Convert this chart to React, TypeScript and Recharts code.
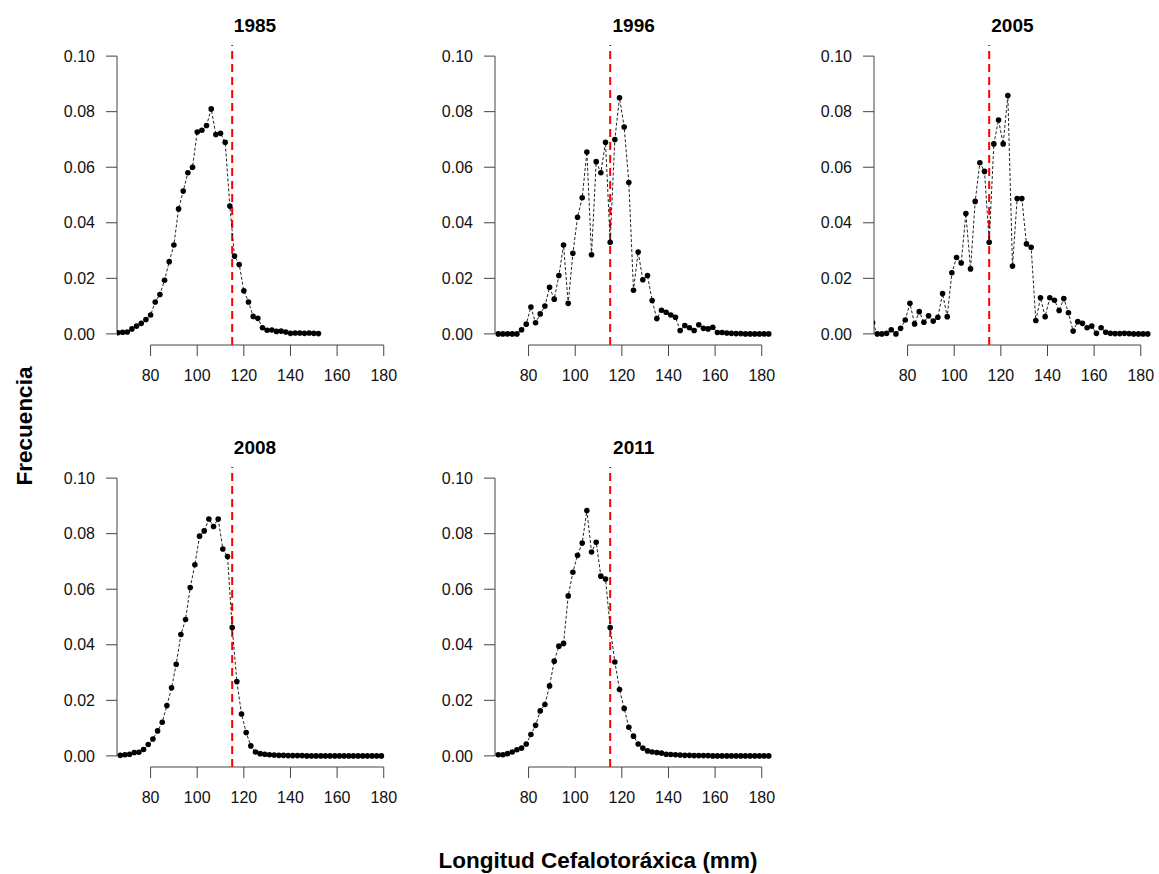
import React from 'react';
import { LineChart, Line, XAxis, YAxis, ReferenceLine } from 'recharts';

// ---- x categories (carapace length, mm) ----
const xEven66to152 = [66, 68, 70, 72, 74, 76, 78, 80, 82, 84, 86, 88, 90, 92, 94, 96, 98, 100, 102, 104, 106, 108, 110, 112, 114, 116, 118, 120, 122, 124, 126, 128, 130, 132, 134, 136, 138, 140, 142, 144, 146, 148, 150, 152];
const xOdd67to183 = [67, 69, 71, 73, 75, 77, 79, 81, 83, 85, 87, 89, 91, 93, 95, 97, 99, 101, 103, 105, 107, 109, 111, 113, 115, 117, 119, 121, 123, 125, 127, 129, 131, 133, 135, 137, 139, 141, 143, 145, 147, 149, 151, 153, 155, 157, 159, 161, 163, 165, 167, 169, 171, 173, 175, 177, 179, 181, 183];
const xOdd65to183 = [65, 67, 69, 71, 73, 75, 77, 79, 81, 83, 85, 87, 89, 91, 93, 95, 97, 99, 101, 103, 105, 107, 109, 111, 113, 115, 117, 119, 121, 123, 125, 127, 129, 131, 133, 135, 137, 139, 141, 143, 145, 147, 149, 151, 153, 155, 157, 159, 161, 163, 165, 167, 169, 171, 173, 175, 177, 179, 181, 183];
const xOdd67to179 = [67, 69, 71, 73, 75, 77, 79, 81, 83, 85, 87, 89, 91, 93, 95, 97, 99, 101, 103, 105, 107, 109, 111, 113, 115, 117, 119, 121, 123, 125, 127, 129, 131, 133, 135, 137, 139, 141, 143, 145, 147, 149, 151, 153, 155, 157, 159, 161, 163, 165, 167, 169, 171, 173, 175, 177, 179];

// ---- frequencies per year ----
const freq1985 = [0.0004, 0.0006, 0.0007, 0.0018, 0.0028, 0.0038, 0.0052, 0.0068, 0.0115, 0.0142, 0.0193, 0.026, 0.032, 0.045, 0.0514, 0.058, 0.060, 0.0727, 0.0733, 0.075, 0.081, 0.0718, 0.0722, 0.069, 0.046, 0.028, 0.025, 0.0155, 0.0115, 0.0063, 0.0056, 0.0022, 0.0013, 0.0014, 0.0009, 0.0010, 0.0007, 0.0002, 0.0003, 0.0003, 0.0002, 0.0003, 0.0002, 0.0001];
const freq1996 = [0, 0, 0, 0, 0, 0.0015, 0.0035, 0.0097, 0.004, 0.0072, 0.010, 0.0168, 0.0125, 0.021, 0.032, 0.011, 0.029, 0.042, 0.049, 0.0655, 0.0285, 0.062, 0.058, 0.069, 0.033, 0.070, 0.085, 0.0745, 0.0545, 0.0157, 0.0295, 0.0195, 0.021, 0.012, 0.0055, 0.0085, 0.0078, 0.0068, 0.006, 0.0012, 0.003, 0.0022, 0.0012, 0.0033, 0.002, 0.0018, 0.0024, 0.0005, 0.0005, 0.0003, 0.0002, 0.0001, 0.0001, 0, 0, 0, 0, 0, 0];
const freq2005 = [0.004, 0, 0, 0.0002, 0.0015, 0, 0.002, 0.005, 0.011, 0.0036, 0.008, 0.0042, 0.0065, 0.0046, 0.006, 0.0145, 0.0062, 0.022, 0.0275, 0.0255, 0.0433, 0.0234, 0.0477, 0.0616, 0.0585, 0.033, 0.0684, 0.077, 0.0684, 0.0858, 0.0244, 0.0487, 0.0487, 0.0324, 0.0312, 0.0048, 0.013, 0.0062, 0.013, 0.0121, 0.0084, 0.0127, 0.0076, 0.001, 0.0044, 0.0038, 0.0022, 0.0028, 0.0002, 0.0022, 0.0006, 0.0002, 0.0001, 0.0001, 0.0002, 0.0001, 0, 0, 0, 0];
const freq2008 = [0.0002, 0.0004, 0.0006, 0.0012, 0.0013, 0.0023, 0.0041, 0.0061, 0.009, 0.0121, 0.0181, 0.0245, 0.033, 0.0437, 0.0491, 0.0606, 0.0688, 0.0791, 0.081, 0.0853, 0.0826, 0.0853, 0.0745, 0.0718, 0.0462, 0.0268, 0.0151, 0.0084, 0.0036, 0.0014, 0.0008, 0.0006, 0.0004, 0.0003, 0.0002, 0.0002, 0.0001, 0.0001, 0.0001, 0.0001, 0, 0, 0, 0, 0, 0, 0, 0, 0, 0, 0, 0, 0, 0, 0, 0, 0];
const freq2011 = [0.0004, 0.0004, 0.0008, 0.0014, 0.0022, 0.0028, 0.0043, 0.0077, 0.011, 0.0162, 0.0185, 0.0252, 0.0341, 0.0395, 0.0405, 0.0576, 0.0661, 0.0722, 0.0766, 0.0883, 0.0734, 0.0769, 0.0647, 0.0637, 0.0462, 0.0338, 0.0239, 0.0171, 0.0103, 0.0071, 0.0043, 0.0028, 0.0018, 0.0014, 0.0012, 0.001, 0.0006, 0.0005, 0.0004, 0.0003, 0.0002, 0.0002, 0.0001, 0.0001, 0.0001, 0.0001, 0, 0, 0, 0, 0, 0, 0, 0, 0, 0, 0, 0, 0];

const years = ['1985', '1996', '2005', '2008', '2011'];
const xTicks = [80, 100, 120, 140, 160, 180];
const yTicks = [0, 0.02, 0.04, 0.06, 0.08, 0.1];
const cutoff = 115;

const FONT = '"Liberation Sans", Arial, Helvetica, sans-serif';
const PLOT_W = 277;
const PLOT_H = 300;
const Y_AXIS_W = 70;
const TOP_M = 40;
const X_AXIS_H = 50;
const X_DOMAIN: [number, number] = [65.6, 184.4];
const Y_DOMAIN: [number, number] = [-0.004, 0.104];

const tickStyle = { fontSize: 16, fill: '#111', fontFamily: FONT };

type PanelProps = { title: string; xs: number[]; ys: number[]; left: number; top: number };

function Panel({ xs, ys, left, top }: PanelProps) {
  const data = xs.map((x, i) => ({ x, y: ys[i] }));
  return (
    <div style={{ position: 'absolute', left: left - Y_AXIS_W, top: top - TOP_M }}>
      <LineChart
        width={Y_AXIS_W + PLOT_W + 5}
        height={TOP_M + PLOT_H + X_AXIS_H}
        data={data}
        margin={{ top: TOP_M, right: 5, bottom: 0, left: 0 }}
      >
        <XAxis
          dataKey="x"
          type="number"
          domain={X_DOMAIN}
          allowDataOverflow
          ticks={xTicks}
          interval={0}
          axisLine={false}
          tickLine={{ stroke: '#444' }}
          tickSize={11}
          tickMargin={14}
          height={X_AXIS_H}
          tick={tickStyle}
        />
        <YAxis
          type="number"
          domain={Y_DOMAIN}
          allowDataOverflow
          ticks={yTicks}
          interval={0}
          tickFormatter={(v: number) => v.toFixed(2)}
          axisLine={false}
          tickLine={{ stroke: '#444' }}
          tickSize={11}
          tickMargin={11}
          width={Y_AXIS_W}
          tick={tickStyle}
        />
        <ReferenceLine
          segment={[{ x: X_DOMAIN[0], y: 0 }, { x: X_DOMAIN[0], y: 0.1 }]}
          stroke="#444"
          ifOverflow="visible"
        />
        <ReferenceLine
          segment={[{ x: 80, y: Y_DOMAIN[0] }, { x: 180, y: Y_DOMAIN[0] }]}
          stroke="#444"
          ifOverflow="visible"
        />
        <ReferenceLine x={cutoff} stroke="#ff0000" strokeWidth={2} strokeDasharray="8 5" />
        <Line
          dataKey="y"
          type="linear"
          stroke="#222"
          strokeWidth={1}
          strokeDasharray="3 2"
          dot={{ r: 2.8, fill: '#000', stroke: '#000', strokeWidth: 0 }}
          activeDot={false}
          isAnimationActive={false}
        />
      </LineChart>
    </div>
  );
}

const panelXs = [xEven66to152, xOdd67to183, xOdd65to183, xOdd67to179, xOdd67to183];
const panelYs = [freq1985, freq1996, freq2005, freq2008, freq2011];

export default function App() {
  const colLeft = [116.5, 495.2, 873.9];
  const rowTop = [44.6, 467.2];
  const positions = [
    [colLeft[0], rowTop[0]],
    [colLeft[1], rowTop[0]],
    [colLeft[2], rowTop[0]],
    [colLeft[0], rowTop[1]],
    [colLeft[1], rowTop[1]],
  ];
  return (
    <div
      style={{
        position: 'absolute',
        left: 0,
        top: 0,
        width: 1159,
        height: 874,
        overflow: 'hidden',
        background: '#fff',
        fontFamily: FONT,
      }}
    >
      {years.map((yr, i) => (
        <Panel key={yr} title={yr} xs={panelXs[i]} ys={panelYs[i]} left={positions[i][0]} top={positions[i][1]} />
      ))}
      <svg
        width={1159}
        height={874}
        style={{ position: 'absolute', left: 0, top: 0, pointerEvents: 'none' }}
      >
        {years.map((yr, i) => (
          <text
            key={yr}
            x={positions[i][0] + PLOT_W / 2}
            y={positions[i][1] - 12.9}
            textAnchor="middle"
            fontFamily={FONT}
            fontWeight="bold"
            fontSize={19}
            fill="#000"
          >
            {yr}
          </text>
        ))}
        <text
          x={31.5}
          y={426}
          transform="rotate(-90 31.5 426)"
          textAnchor="middle"
          fontFamily={FONT}
          fontWeight="bold"
          fontSize={22.5}
          fill="#000"
        >
          Frecuencia
        </text>
        <text
          x={598}
          y={868}
          textAnchor="middle"
          fontFamily={FONT}
          fontWeight="bold"
          fontSize={22.5}
          fill="#000"
        >
          Longitud Cefalotoráxica (mm)
        </text>
      </svg>
    </div>
  );
}
